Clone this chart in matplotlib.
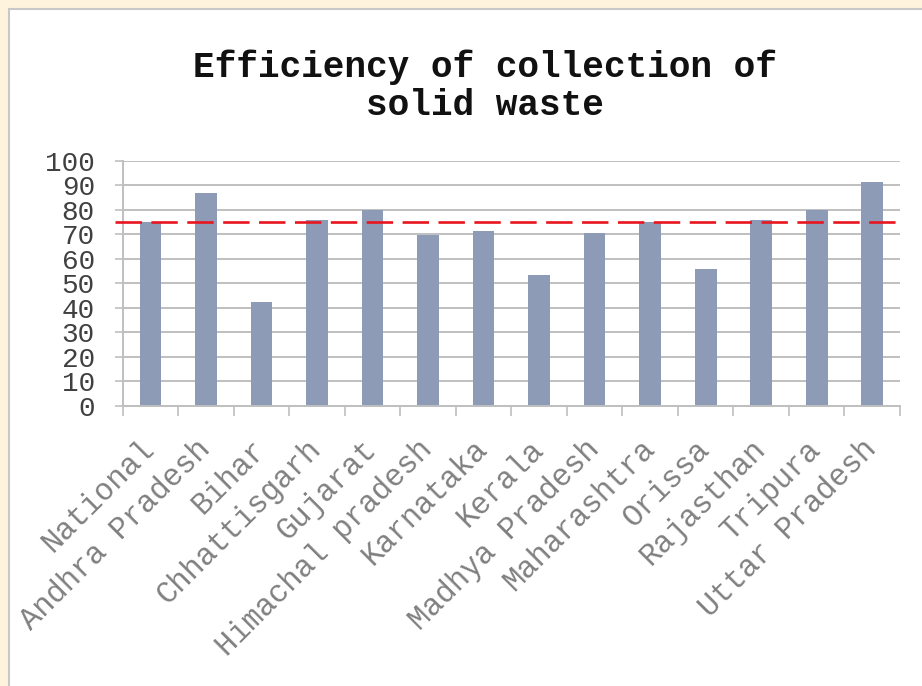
import matplotlib.pyplot as plt
from matplotlib.patches import Rectangle

# Data
states = [
    "National", "Andhra Pradesh", "Bihar", "Chhattisgarh", "Gujarat",
    "Himachal pradesh", "Karnataka", "Kerala", "Madhya Pradesh",
    "Maharashtra", "Orissa", "Rajasthan", "Tripura", "Uttar Pradesh",
]
efficiency = [75, 87, 42.5, 76, 80, 69.5, 71.5, 53.5, 70.5, 75, 56, 76, 80, 91.5]
national_level = 75
y_ticks = list(range(0, 101, 10))

W, H = 922, 686
fig = plt.figure(figsize=(W / 100, H / 100), dpi=100)
fig.patch.set_facecolor("#fef4dd")

# white slide panel with a grey border
panel = Rectangle((9 / W, -0.1), 1.1, 1 - 9 / H + 0.1, transform=fig.transFigure,
                  facecolor="white", edgecolor="#c8c8c8", linewidth=1.5, zorder=-5)
fig.patches.append(panel)

font = "Liberation Mono"
ax = fig.add_axes([122.7 / W, 1 - 405.7 / H, (900 - 122.7) / W, 245 / H])
ax.set_facecolor("none")
ax.set_zorder(2)

x = list(range(len(states)))
ax.bar(x, efficiency, width=0.39, color="#8e9bb7", zorder=2)
ax.plot([-0.64, len(states) - 0.5], [national_level, national_level],
        color="#e8141e", linewidth=1.9, linestyle=(0, (10, 3.6)),
        clip_on=False, zorder=3)

ax.set_xlim(-0.5, len(states) - 0.5)
ax.set_ylim(0, 100)

# y axis
ax.set_yticks(y_ticks)
ax.set_yticklabels([str(v) for v in y_ticks], family=font, fontsize=20, color="#404040")
ax.tick_params(axis="y", length=6, width=1.2, color="#bfbfbf", pad=14)
ax.yaxis.grid(True, color="#bfbfbf", linewidth=1.4, zorder=1)
ax.set_axisbelow(True)

# x axis: ticks at category boundaries, labels at centres
ax.set_xticks([i - 0.5 for i in range(len(states) + 1)])
ax.set_xticklabels([])
ax.tick_params(axis="x", which="major", length=7, width=1.2, color="#bfbfbf")
ax.set_xticks(x, minor=True)
ax.set_xticklabels(states, minor=True, rotation=45, ha="right", va="center",
                   rotation_mode="anchor", family=font, fontsize=22, color="#808080")
ax.tick_params(axis="x", which="minor", length=0, pad=28)

for side in ["top", "right"]:
    ax.spines[side].set_visible(False)
for side in ["left", "bottom"]:
    ax.spines[side].set_color("#bfbfbf")
    ax.spines[side].set_linewidth(1.4)

fig.text(485 / W, 1 - 86 / H, "Efficiency of collection of\nsolid waste",
         ha="center", va="center", family=font, fontweight="semibold",
         fontsize=26, linespacing=1.1, color="#111111")

fig.savefig("out.png", dpi=100, facecolor=fig.get_facecolor())
